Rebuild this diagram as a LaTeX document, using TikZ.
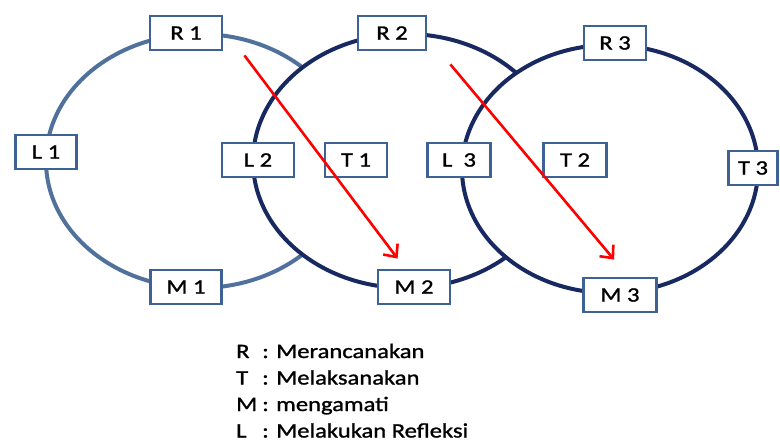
\documentclass[tikz,border=0pt]{standalone}
\usepackage{fontspec}
\setmainfont{Carlito}[FakeStretch=1.2,FakeBold=1.2,BoldFont=Carlito]
\usepackage{tikz}
\usetikzlibrary{arrows.meta}

\definecolor{ringlight}{RGB}{79,113,155}
\definecolor{ringdark}{RGB}{24,40,96}
\definecolor{boxedge}{RGB}{62,98,148}

\tikzset{
	stage/.style={draw=boxedge, line width=2.8pt, fill=white, minimum height=34pt,
		inner sep=0pt, font=\fontsize{20.5}{24}\selectfont\bfseries},
	ring/.style={line width=4pt},
	flow/.style={draw=red, line width=2.6pt, -{Straight Barb[length=10pt,width=18pt]}}
}

\begin{document}
\begin{tikzpicture}[x=1pt,y=-1pt]
	\useasboundingbox (0,0) rectangle (780,442);
	
	% tiga siklus
	\draw[ring, ringlight] (199,161) ellipse [x radius=153, y radius=127];
	\draw[ring, ringdark, fill=white] (406,161) ellipse [x radius=153, y radius=127];
	\draw[ring, ringdark, fill=white] (610,169) ellipse [x radius=148, y radius=124];
	
	% kotak tahap
	\foreach \nm/\px/\py/\bw/\tx in {R1/186/33/72/R 1, L1/46/152/61/L 1, M1/186/287/71/M 1,
		L2/258/160/72/L 2, T1/356/160/62/T 1, R2/392/33/68/R 2, M2/414/287/72/M 2,
		L3/459/160/63/L\ \ 3, T2/575/160/63/T 2, R3/615/43/62/R 3, M3/620/295/73/M 3,
		T3/753/168/49/T 3} {
		\node[stage, minimum width=\bw] (\nm) at (\px,\py) {\tx};
	}
	
	% panah antar siklus
	\draw[flow] ([shift={(21,4)}]R1.south east) -- ([shift={(21,-10)}]M2.north west);
	\draw[flow] ([shift={(23,13)}]R2.south east) -- ([shift={(32,-17)}]M3.north west);
	
	% keterangan
	\node[anchor=base west, inner sep=0pt, font=\fontsize{20.5}{26.5}\selectfont\bfseries] (legend) at (236,358) {%
		\begin{tabular}[t]{@{}l@{\hspace{5pt}}l@{}}
			R & : Merancanakan\\
			T & : Melaksanakan\\
			M & : mengamati\\
			L & : Melakukan Refleksi
		\end{tabular}};
\end{tikzpicture}
\end{document}
